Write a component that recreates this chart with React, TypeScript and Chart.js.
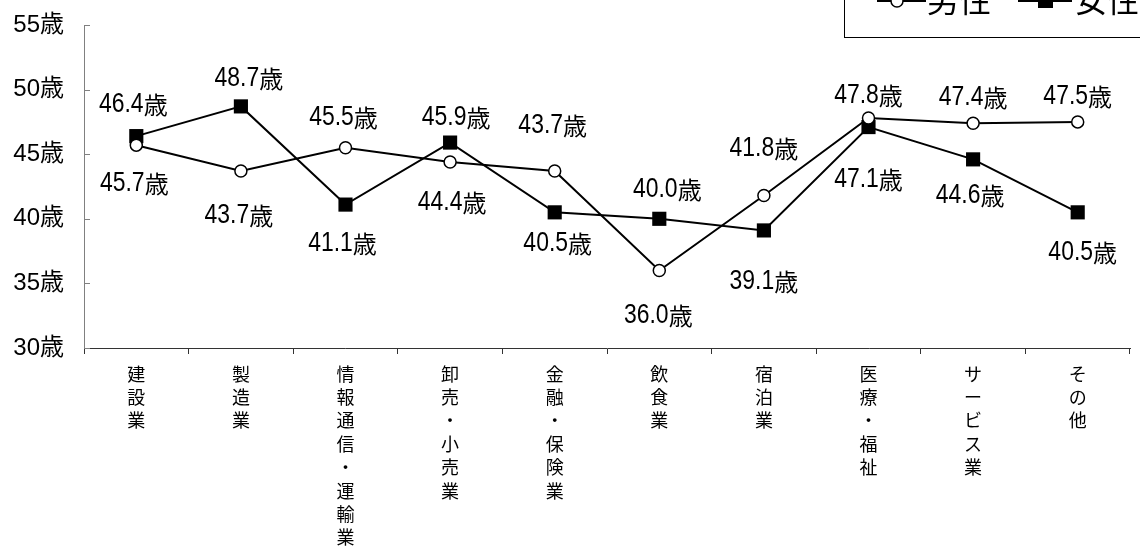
import React, { useEffect, useRef } from "react";
import { Chart, registerables } from "chart.js";

Chart.register(...registerables);

const categories = [
  "建設業",
  "製造業",
  "情報通信・運輸業",
  "卸売・小売業",
  "金融・保険業",
  "飲食業",
  "宿泊業",
  "医療・福祉",
  "サービス業",
  "その他",
];
const maleValues = [45.7, 43.7, 45.5, 44.4, 43.7, 36.0, 41.8, 47.8, 47.4, 47.5];
const femaleValues = [46.4, 48.7, 41.1, 45.9, 40.5, 40.0, 39.1, 47.1, 44.6, 40.5];
const seriesNames = ["男性", "女性"];
const yMin = 30;
const yMax = 55;
const yStep = 5;
const unit = "歳";

// label offsets (pixels) relative to each point: [dx, dy]
const maleLabelOffsets = [
  [-2, 36], [-2, 42], [-2, -33], [2, 38], [-2, -48],
  [-1, 43], [0, -50], [0, -25], [0, -28], [0, -28],
];
const femaleLabelOffsets = [
  [-3, -34], [8, -30], [-3, 36], [6, -28], [3, 29],
  [8, -32], [0, 49], [0, 50], [-3, 34], [5, 38],
];

const LATIN = '"Liberation Sans", Arial, sans-serif';
const CJK = '"Noto Sans CJK JP", sans-serif';
const FONT = '"Liberation Sans", Arial, "Noto Sans CJK JP", sans-serif';

export default function App() {
  const ref = useRef<HTMLCanvasElement | null>(null);

  useEffect(() => {
    document.body.style.margin = "0";
    const canvas = ref.current;
    if (!canvas) return;

    const drawValue = (ctx: any, num: string, cx: number, cy: number) => {
      const sx = 0.85;
      ctx.font = `27px ${LATIN}`;
      const nw = ctx.measureText(num).width * sx;
      ctx.font = `24px ${CJK}`;
      const kw = ctx.measureText(unit).width;
      const left = cx - (nw + kw) / 2;
      const base = cy + 10;
      ctx.save();
      ctx.translate(left, base);
      ctx.scale(sx, 1);
      ctx.font = `27px ${LATIN}`;
      ctx.fillText(num, 0, 0);
      ctx.restore();
      ctx.font = `24px ${CJK}`;
      ctx.fillText(unit, left + nw, base + 2);
    };

    const labelPlugin = {
      id: "valueLabels",
      afterDatasetsDraw(chart: any) {
        const ctx = chart.ctx;
        ctx.save();
        ctx.fillStyle = "#000";
        ctx.textAlign = "left";
        ctx.textBaseline = "alphabetic";
        const offs = [maleLabelOffsets, femaleLabelOffsets];
        chart.data.datasets.forEach((ds: any, di: number) => {
          const meta = chart.getDatasetMeta(di);
          meta.data.forEach((pt: any, i: number) => {
            const v = ds.data[i];
            const [dx, dy] = offs[di][i];
            drawValue(ctx, v.toFixed(1), pt.x + dx, pt.y + dy);
          });
        });
        ctx.restore();
      },
    };

    const innerTicks = {
      id: "innerTicks",
      afterDraw(chart: any) {
        const ctx = chart.ctx;
        const y = chart.scales.y;
        ctx.save();
        ctx.strokeStyle = "#808080";
        ctx.lineWidth = 1;
        y.ticks.forEach((t: any) => {
          const py = Math.round(y.getPixelForValue(t.value)) + 0.5;
          ctx.beginPath();
          ctx.moveTo(y.right, py);
          ctx.lineTo(y.right + 6, py);
          ctx.stroke();
        });
        ctx.restore();
      },
    };

    const legendPlugin = {
      id: "customLegend",
      afterDraw(chart: any) {
        const ctx = chart.ctx;
        ctx.save();
        ctx.strokeStyle = "#000";
        ctx.lineWidth = 1;
        ctx.fillStyle = "#fff";
        ctx.fillRect(844.5, -40, 400, 77.5);
        ctx.strokeRect(844.5, -40, 400, 77.5);
        ctx.lineWidth = 2;
        // male
        ctx.beginPath();
        ctx.moveTo(877, 1);
        ctx.lineTo(926, 1);
        ctx.stroke();
        ctx.beginPath();
        ctx.arc(897, 1, 6, 0, Math.PI * 2);
        ctx.fillStyle = "#fff";
        ctx.fill();
        ctx.lineWidth = 1.5;
        ctx.stroke();
        // female
        ctx.lineWidth = 2;
        ctx.beginPath();
        ctx.moveTo(1018, 1);
        ctx.lineTo(1072, 1);
        ctx.stroke();
        ctx.fillStyle = "#000";
        ctx.fillRect(1038, -6, 15, 14);
        ctx.font = `32px ${FONT}`;
        ctx.textAlign = "left";
        ctx.textBaseline = "alphabetic";
        ctx.fillStyle = "#000";
        ctx.fillText(seriesNames[0], 927, 12);
        ctx.fillText(seriesNames[1], 1075, 12);
        ctx.restore();
      },
    };

    const chart = new Chart(canvas, {
      type: "line",
      data: {
        labels: categories.map((c) => Array.from(c)),
        datasets: [
          {
            label: seriesNames[0],
            data: maleValues,
            borderColor: "#000",
            borderWidth: 2,
            pointStyle: "circle",
            pointRadius: 6,
            pointBorderWidth: 1.5,
            pointBackgroundColor: "#fff",
            pointBorderColor: "#000",
            tension: 0,
          },
          {
            label: seriesNames[1],
            data: femaleValues,
            borderColor: "#000",
            borderWidth: 2,
            pointStyle: "rect",
            pointRadius: 10,
            pointBorderWidth: 0,
            pointBackgroundColor: "#000",
            pointBorderColor: "#000",
            tension: 0,
          },
        ],
      },
      options: {
        animation: false,
        responsive: false,
        devicePixelRatio: 1,
        layout: { padding: { left: 0, right: 10, top: 25, bottom: 0 } },
        plugins: {
          legend: { display: false },
          tooltip: { enabled: false },
        },
        scales: {
          x: {
            type: "category",
            offset: true,
            grid: {
              offset: true,
              drawOnChartArea: false,
              tickLength: 6,
              color: "#333",
            },
            border: { color: "#333", width: 1 },
            ticks: {
              maxRotation: 0,
              minRotation: 0,
              autoSkip: false,
              padding: 10,
              color: "#000",
              font: { family: FONT, size: 18, lineHeight: 1.3 },
            },
            afterFit: (s: any) => {
              s.height = 200;
            },
          },
          y: {
            min: yMin,
            max: yMax,
            grid: { display: false, drawTicks: false },
            border: { color: "#808080", width: 1 },
            ticks: {
              stepSize: yStep,
              padding: 20,
              color: "#000",
              font: { family: FONT, size: 24, lineHeight: 0.2 },
              callback: (v: any) => v + unit,
            },
            afterFit: (s: any) => {
              s.width = 84;
            },
          },
        },
      },
      plugins: [labelPlugin, innerTicks, legendPlugin],
    });

    return () => chart.destroy();
  }, []);

  return (
    <div style={{ width: 1140, height: 548, background: "#fff" }}>
      <canvas ref={ref} width={1140} height={548} />
    </div>
  );
}
